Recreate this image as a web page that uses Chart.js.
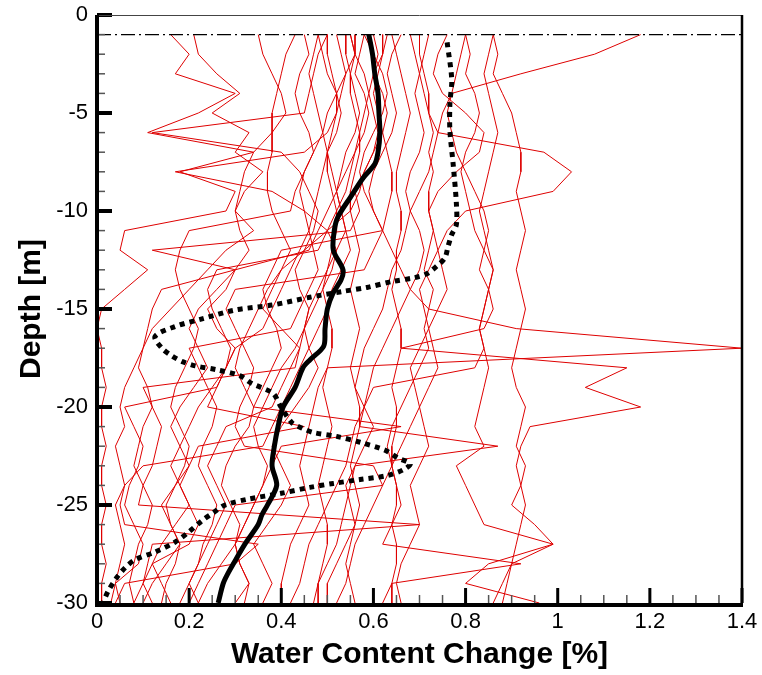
<!DOCTYPE html>
<html>
<head>
<meta charset="utf-8">
<script src="https://cdn.jsdelivr.net/npm/chart.js@4.4.1/dist/chart.umd.min.js"></script>
<style>
  html, body { margin: 0; padding: 0; background: #fff; }
  canvas { display: block; }
</style>
</head>
<body>
<canvas id="grafico" width="762" height="675"></canvas>
<script>
// depths shared by the red profiles [m]
var depth = [-1, -2, -3, -4, -5, -6, -7, -8, -9, -10, -11, -12, -13, -14, -15,
             -16, -17, -18, -19, -20, -21, -22, -23, -24, -25, -26, -27, -28, -29, -30];

// individual profiles, water content change [%] at each depth
var p01 = [0.16,0.20,0.17,0.30,0.22,0.11,0.34,0.18,0.30,0.28,0.06,0.05,0.11,0.06,0.01,0.00,0.01,0.01,0.02,0.01,0.01,0.02,0.01,0.01,0.02,0.01,0.01,0.02,0.01,0.01];
var p02 = [0.21,0.22,0.26,0.31,0.25,0.33,0.30,0.36,0.32,0.30,0.34,0.28,0.24,0.20,0.16,0.12,0.10,0.08,0.06,0.05,0.06,0.04,0.05,0.06,0.04,0.05,0.06,0.05,0.04,0.05];
var p03 = [0.43,0.41,0.40,0.39,0.38,0.38,0.38,0.37,0.37,0.38,0.40,0.42,0.40,0.37,0.35,0.33,0.31,0.30,0.32,0.34,0.33,0.30,0.28,0.27,0.29,0.31,0.30,0.27,0.24,0.22];
var p04 = [0.35,0.36,0.38,0.40,0.41,0.38,0.34,0.32,0.31,0.30,0.31,0.33,0.30,0.26,0.22,0.20,0.22,0.24,0.21,0.18,0.16,0.18,0.20,0.17,0.14,0.16,0.18,0.15,0.12,0.10];
var p05 = [0.50,0.48,0.47,0.46,0.45,0.12,0.40,0.44,0.46,0.48,0.47,0.45,0.43,0.44,0.46,0.45,0.43,0.40,0.38,0.36,0.34,0.35,0.37,0.36,0.34,0.32,0.30,0.31,0.33,0.30];
var p06 = [0.55,0.56,0.54,0.53,0.52,0.50,0.45,0.17,0.38,0.45,0.50,0.52,0.51,0.49,0.47,0.45,0.46,0.48,0.46,0.43,0.40,0.38,0.40,0.42,0.40,0.37,0.34,0.36,0.38,0.36];
var p07 = [0.60,0.61,0.60,0.62,0.63,0.62,0.60,0.58,0.56,0.57,0.55,0.12,0.30,0.28,0.24,0.26,0.30,0.28,0.25,0.22,0.20,0.18,0.16,0.18,0.20,0.17,0.14,0.12,0.10,0.08];
var p08 = [0.56,0.56,0.55,0.55,0.56,0.57,0.57,0.56,0.55,0.55,0.56,0.57,0.56,0.55,0.56,0.57,0.56,0.55,0.56,0.57,0.57,0.56,0.55,0.56,0.57,0.56,0.55,0.54,0.55,0.56];
var p09 = [0.64,0.65,0.66,0.67,0.68,0.67,0.66,0.65,0.65,0.66,0.66,0.65,0.65,0.64,0.65,0.66,0.66,0.65,0.64,0.65,0.65,0.64,0.64,0.65,0.65,0.64,0.65,0.65,0.64,0.64];
var p10 = [0.76,0.74,0.73,0.75,0.80,0.84,0.83,0.78,0.74,0.72,0.73,0.74,0.72,0.70,0.71,0.72,0.70,0.68,0.69,0.70,0.68,0.66,0.64,0.65,0.66,0.64,0.62,0.92,0.64,0.62];
var p11 = [0.62,0.62,0.61,0.60,0.61,0.62,0.63,0.64,0.64,0.63,0.62,0.64,0.66,0.68,0.72,0.91,1.40,0.50,0.48,0.47,0.46,0.45,0.44,0.45,0.46,0.44,0.42,0.41,0.40,0.40];
var p12 = [0.80,0.79,0.78,0.77,0.76,0.77,0.78,0.80,0.82,0.84,0.85,0.84,0.83,0.85,0.86,0.84,0.66,1.15,1.06,1.18,0.94,0.92,0.91,0.92,0.93,0.92,0.91,0.90,0.89,0.88];
var p13 = [1.18,1.08,0.92,0.77,0.75,0.74,0.73,0.72,0.70,0.68,0.67,0.66,0.64,0.63,0.62,0.60,0.58,0.57,0.56,0.58,0.60,0.58,0.56,0.54,0.55,0.56,0.54,0.52,0.50,0.50];
var p14 = [0.86,0.87,0.86,0.88,0.90,0.91,0.92,0.92,0.91,0.92,0.93,0.92,0.91,0.92,0.93,0.92,0.91,0.90,0.91,0.93,0.92,0.91,0.93,0.92,0.90,0.95,0.99,0.90,0.88,0.86];
var p15 = [0.68,0.69,0.70,0.71,0.72,0.74,0.97,1.03,0.99,0.80,0.76,0.74,0.75,0.76,0.74,0.72,0.73,0.74,0.72,0.70,0.71,0.72,0.70,0.68,0.69,0.70,0.68,0.66,0.65,0.66];
var p16 = [0.48,0.49,0.50,0.52,0.53,0.52,0.50,0.49,0.48,0.47,0.46,0.47,0.48,0.46,0.44,0.42,0.20,0.22,0.24,0.26,0.25,0.23,0.22,0.24,0.26,0.25,0.23,0.22,0.20,0.18];
var p17 = [0.58,0.60,0.62,0.63,0.62,0.60,0.58,0.57,0.58,0.60,0.62,0.60,0.58,0.30,0.28,0.30,0.32,0.34,0.33,0.31,0.30,0.32,0.60,0.62,0.30,0.28,0.26,0.24,0.22,0.20];
var p18 = [0.72,0.71,0.70,0.69,0.70,0.71,0.70,0.68,0.67,0.68,0.70,0.71,0.70,0.68,0.66,0.64,0.62,0.60,0.59,0.58,0.57,0.87,0.56,0.55,0.54,0.53,0.52,0.50,0.48,0.47];
var p19 = [0.45,0.46,0.44,0.43,0.44,0.46,0.47,0.45,0.43,0.42,0.20,0.18,0.17,0.18,0.20,0.22,0.21,0.19,0.17,0.16,0.18,0.20,0.19,0.17,0.15,0.16,0.18,0.17,0.15,0.14];
var p20 = [0.52,0.53,0.54,0.52,0.50,0.49,0.50,0.51,0.52,0.50,0.48,0.46,0.30,0.14,0.12,0.11,0.10,0.09,0.11,0.12,0.10,0.09,0.08,0.10,0.12,0.11,0.09,0.08,0.07,0.08];
var p21 = [0.80,0.81,0.80,0.82,0.83,0.82,0.80,0.79,0.80,0.81,0.82,0.84,0.86,0.85,0.84,0.83,0.84,0.82,0.60,0.58,0.56,0.55,0.54,0.52,0.50,0.48,0.46,0.45,0.44,0.42];
var p22 = [0.50,0.50,0.51,0.52,0.52,0.51,0.50,0.50,0.51,0.52,0.52,0.51,0.50,0.49,0.50,0.51,0.51,0.50,0.49,0.50,0.51,0.50,0.49,0.48,0.49,0.50,0.50,0.49,0.48,0.48];
var p23 = [0.66,0.64,0.63,0.64,0.65,0.64,0.62,0.60,0.59,0.60,0.62,0.40,0.38,0.36,0.37,0.39,0.40,0.38,0.36,0.34,0.66,0.40,0.38,0.36,0.34,0.32,0.30,0.31,0.33,0.32];
var p24 = [0.54,0.54,0.55,0.56,0.57,0.56,0.54,0.53,0.52,0.53,0.54,0.52,0.50,0.48,0.46,0.45,0.44,0.43,0.10,0.12,0.14,0.13,0.12,0.10,0.09,0.70,0.12,0.11,0.10,0.12];
var p25 = [0.58,0.57,0.56,0.58,0.59,0.58,0.56,0.54,0.52,0.53,0.54,0.55,0.53,0.51,0.50,0.48,0.46,0.44,0.42,0.40,0.38,0.36,0.10,0.06,0.05,0.06,0.35,0.30,0.06,0.04];
var p26 = [0.86,0.85,0.84,0.85,0.86,0.87,0.86,0.85,0.84,0.83,0.84,0.85,0.86,0.85,0.84,0.83,0.84,0.85,0.84,0.83,0.82,0.84,0.78,0.80,0.82,0.84,0.99,0.85,0.80,0.96];
var p27 = [0.70,0.70,0.71,0.72,0.72,0.73,0.72,0.73,0.72,0.72,0.73,0.72,0.71,0.73,0.72,0.71,0.72,0.70,0.68,0.66,0.64,0.63,0.64,0.62,0.60,0.58,0.56,0.55,0.54,0.52];
var p28 = [0.48,0.47,0.46,0.47,0.48,0.49,0.47,0.45,0.44,0.45,0.46,0.44,0.42,0.40,0.38,0.36,0.30,0.28,0.26,0.24,0.45,0.22,0.20,0.18,0.20,0.22,0.20,0.12,0.14,0.16];
var p29 = [0.63,0.62,0.60,0.59,0.60,0.61,0.60,0.58,0.57,0.55,0.50,0.45,0.40,0.38,0.36,0.40,0.44,0.42,0.40,0.38,0.28,0.26,0.24,0.26,0.28,0.26,0.24,0.22,0.20,0.22];
var p30 = [0.55,0.56,0.58,0.59,0.58,0.57,0.56,0.55,0.54,0.52,0.50,0.48,0.26,0.24,0.25,0.27,0.29,0.28,0.26,0.06,0.08,0.10,0.09,0.07,0.06,0.08,0.10,0.09,0.04,0.03];
var profiles = [p01, p02, p03, p04, p05, p06, p07, p08, p09, p10, p11, p12, p13, p14, p15,
                p16, p17, p18, p19, p20, p21, p22, p23, p24, p25, p26, p27, p28, p29, p30];

// mean profile (solid black)
var meanDepth = [-1, -2, -3, -4, -5, -6, -7, -7.6, -8.3, -9.3, -10.3, -11, -12, -13, -13.5, -14.2, -15, -16,
                 -16.9, -17.6, -18, -19, -20, -21, -22, -23, -24, -25, -25.5, -26, -27, -28, -28.5, -29, -30];
var meanValue = [0.59, 0.598, 0.603, 0.61, 0.612, 0.614, 0.61, 0.603, 0.578, 0.55, 0.523, 0.515, 0.513, 0.534, 0.53,
                 0.512, 0.5, 0.495, 0.492, 0.462, 0.447, 0.43, 0.404, 0.393, 0.385, 0.38, 0.39, 0.37, 0.358, 0.35,
                 0.321, 0.296, 0.284, 0.274, 0.263];

// second reference profile (dotted black)
var dotDepth = [-1.4, -3.3, -4.5, -5.9, -7.6, -9.6, -10.7, -11.2, -11.8, -12.4, -12.8, -13.2, -13.4, -13.6, -13.9,
                -14.1, -14.4, -14.8, -15.05, -15.5, -15.9, -16.4, -17.0, -17.4, -17.7, -17.9, -18.1, -18.4, -18.8,
                -19.3, -19.9, -20.8, -21.1, -21.3, -21.5, -21.8, -22.2, -22.6, -22.9, -23.2, -23.5, -23.7, -23.9,
                -24.1, -24.4, -24.7, -25.0, -25.4, -25.8, -26.4, -26.9, -27.4, -27.8, -28.2, -28.7, -29.4, -30];
var dotValue = [0.76, 0.77, 0.766, 0.766, 0.773, 0.78, 0.78, 0.77, 0.762, 0.755, 0.738, 0.716, 0.69, 0.64, 0.586,
                0.534, 0.462, 0.38, 0.30, 0.228, 0.169, 0.126, 0.141, 0.163, 0.187, 0.213, 0.26, 0.31, 0.336,
                0.382, 0.397, 0.423, 0.447, 0.469, 0.52, 0.571, 0.625, 0.653, 0.68, 0.665, 0.63, 0.571, 0.513,
                0.462, 0.40, 0.328, 0.278, 0.252, 0.228, 0.198, 0.169, 0.126, 0.082, 0.061, 0.043, 0.024, 0.013];

// horizontal reference level
var levelDepth = -1;
var xRange = [0, 1.4];

var fonte = 'Liberation Sans, Arial, Helvetica, sans-serif';

function pares(xs, ys) {
  return xs.map(function (v, i) { return { x: v, y: ys[i] }; });
}

var datasets = [];
datasets.push({
  data: pares(meanValue, meanDepth),
  borderColor: '#000', borderWidth: 5, tension: 0.3, order: 0
});
datasets.push({
  data: pares(dotValue, dotDepth),
  borderColor: '#000', borderWidth: 5, borderDash: [5, 5], tension: 0.3, order: 0
});
datasets.push({
  data: pares(xRange, [levelDepth, levelDepth]),
  borderColor: '#000', borderWidth: 1.3, borderDash: [14, 4, 2, 4], order: 0
});
profiles.forEach(function (p) {
  datasets.push({
    data: pares(p, depth),
    borderColor: 'rgb(222,0,0)', borderWidth: 1, tension: 0, order: 1
  });
});

// frame + inward ticks like the original plot
var moldura = {
  id: 'moldura',
  afterDraw: function (chart) {
    var ctx = chart.ctx, a = chart.chartArea;
    var x = chart.scales.x, y = chart.scales.y;
    ctx.save();
    ctx.lineCap = 'butt';
    // minor ticks
    ctx.strokeStyle = '#555';
    ctx.lineWidth = 1.5;
    for (var k = 1; k < 28; k++) {
      if (k % 4 === 0) continue;
      var px = x.getPixelForValue(k * 0.05);
      ctx.beginPath(); ctx.moveTo(px, a.bottom); ctx.lineTo(px, a.bottom - 8); ctx.stroke();
    }
    for (var m = -29; m < 0; m++) {
      if (m % 5 === 0) continue;
      var py = y.getPixelForValue(m);
      ctx.beginPath(); ctx.moveTo(a.left, py); ctx.lineTo(a.left + 8, py); ctx.stroke();
    }
    // major ticks
    ctx.strokeStyle = '#000';
    ctx.lineWidth = 3;
    x.ticks.forEach(function (t) {
      var px = x.getPixelForValue(t.value);
      ctx.beginPath(); ctx.moveTo(px, a.bottom); ctx.lineTo(px, a.bottom - 15); ctx.stroke();
    });
    ctx.lineWidth = 4;
    y.ticks.forEach(function (t) {
      var py = y.getPixelForValue(t.value);
      ctx.beginPath(); ctx.moveTo(a.left, py); ctx.lineTo(a.left + 15, py); ctx.stroke();
    });
    // axes box
    ctx.strokeStyle = '#444';
    ctx.lineWidth = 1;
    ctx.beginPath(); ctx.moveTo(a.left, a.top + 0.5); ctx.lineTo(a.right, a.top + 0.5); ctx.stroke();
    ctx.strokeStyle = '#000';
    ctx.lineWidth = 2.5;
    ctx.beginPath(); ctx.moveTo(a.right, a.top); ctx.lineTo(a.right, a.bottom); ctx.stroke();
    ctx.lineWidth = 4;
    ctx.beginPath(); ctx.moveTo(a.left, a.top); ctx.lineTo(a.left, a.bottom + 2); ctx.lineTo(a.right + 1, a.bottom + 2); ctx.stroke();
    ctx.restore();
  }
};

var grafico = new Chart(document.getElementById('grafico').getContext('2d'), {
  type: 'scatter',
  data: { datasets: datasets },
  options: {
    responsive: false,
    animation: false,
    layout: { padding: { left: 0, right: 20, top: 15, bottom: 0 } },
    elements: { point: { radius: 0 }, line: { fill: false } },
    datasets: { scatter: { showLine: true } },
    plugins: { legend: { display: false }, tooltip: { enabled: false } },
    scales: {
      x: {
        type: 'linear', min: 0, max: 1.4,
        grid: { display: false, drawTicks: false },
        border: { display: false },
        ticks: {
          stepSize: 0.2, padding: 6, color: '#000',
          font: { family: fonte, size: 22 },
          callback: function (v) { return String(+v.toFixed(1)); }
        },
        title: {
          display: true, text: 'Water Content Change [%]', color: '#000',
          font: { family: fonte, size: 30, weight: 'bold' },
          padding: { top: 0, bottom: 2 }
        },
        afterFit: function (s) { s.height = 72; s.paddingLeft = 0; s.paddingRight = 0; }
      },
      y: {
        type: 'linear', min: -30, max: 0,
        grid: { display: false, drawTicks: false },
        border: { display: false },
        ticks: {
          stepSize: 5, padding: 9, color: '#000',
          font: { family: fonte, size: 22 }
        },
        title: {
          display: true, text: 'Depth [m]', color: '#000',
          font: { family: fonte, size: 30, weight: 'bold' },
          padding: { top: 14, bottom: 0 }
        },
        afterFit: function (s) { s.width = 97; s.paddingTop = 0; s.paddingBottom = 0; }
      }
    }
  },
  plugins: [moldura]
});
</script>
</body>
</html>
